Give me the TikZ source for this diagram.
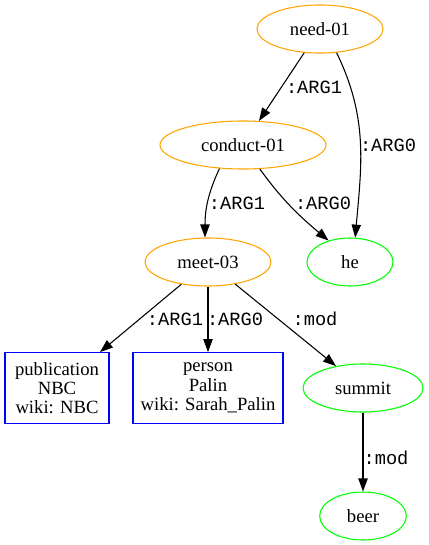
\documentclass[tikz,border=0pt]{standalone}
\usepackage{fontspec}
\setmainfont{Liberation Serif}
\setmonofont{Liberation Mono}
\usepackage{xcolor}
\usetikzlibrary{shapes.geometric}
\usetikzlibrary{arrows.meta}
\definecolor{amrorange}{RGB}{255,165,0}
\definecolor{amrgreen}{RGB}{0,255,0}
\definecolor{amrblue}{RGB}{0,0,255}

\begin{document}
\begin{tikzpicture}[x=0.75pt, y=-0.75pt,
    concept/.style={ellipse, draw=amrorange, line width=0.8pt, minimum height=36pt, inner sep=0pt, font=\fontsize{14}{16}\selectfont},
    constant/.style={ellipse, draw=amrgreen, line width=0.8pt, minimum height=36pt, inner sep=0pt, font=\fontsize{14}{16}\selectfont},
    named/.style={rectangle, draw=amrblue, line width=0.8pt, align=center, minimum height=53pt, inner sep=0pt, font=\fontsize{14}{14.5}\selectfont},
    edge/.style={-{Triangle[length=9.75pt,width=7pt]}, line width=0.8pt},
    role/.style={inner sep=0pt, font=\ttfamily\fontsize{14}{16}\selectfont}]

\useasboundingbox (0,0) rectangle (428,545);

% concepts
\node[concept, minimum width=94.5pt] (need) at (320,29) {need-01};
\node[concept, minimum width=124.5pt] (conduct) at (243,145) {conduct-01};
\node[concept, minimum width=94.5pt] (meet) at (208,262) {meet-03};

% constants
\node[constant, minimum width=64.5pt] (he) at (350,262) {he};
\node[constant, minimum width=90pt] (summit) at (363,388) {summit};
\node[constant, minimum width=65pt] (beer) at (363,516) {beer};

% named entities
\node[named, minimum width=78pt] (pub) at (57,388) {publication\\NBC\\wiki: NBC};
\node[named, minimum width=112.5pt] (palin) at (208,388) {person\\Palin\\wiki: Sarah\_Palin};

% edges
\draw[edge] (need) -- (conduct);
\draw[edge] (need.-55) to[out=-64, in=85] (he.78);
\draw[edge] (conduct.-135) to[out=-115, in=90] (meet.97);
\draw[edge] (conduct.-55) to[out=-54, in=140] (he.135);
\draw[edge] (meet) -- (pub);
\draw[edge] (meet) -- (palin);
\draw[edge] (meet) -- (summit);
\draw[edge] (summit) -- (beer);

% roles
\node[role] (needarg1) at (314,87) {:ARG1};
\node[role] (needarg0) at (388,145) {:ARG0};
\node[role] (conductarg1) at (237,203) {:ARG1};
\node[role] (conductarg0) at (323,203) {:ARG0};
\node[role] (meetarg1) at (175,319) {:ARG1};
\node[role] (meetarg0) at (235,319) {:ARG0};
\node[role] (meetmod) at (315,319) {:mod};
\node[role] (summitmod) at (386,458) {:mod};

\end{tikzpicture}
\end{document}
